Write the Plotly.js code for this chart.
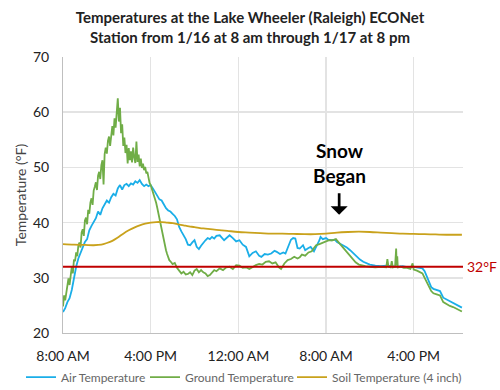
<!DOCTYPE html>
<html>
<head>
<meta charset="utf-8">
<script src="https://cdn.plot.ly/plotly-3.0.1.min.js"></script>
<style>html,body{margin:0;padding:0;background:#fff;}#chart{width:500px;height:390px;}</style>
</head>
<body>
<div id="chart"></div>
<script>
// Hours since 8:00 AM on 1/16
const tickHours = [0, 8, 16, 24, 32];
const tickLabels = ['8:00 AM', '4:00 PM', '12:00 AM', '8:00 AM', '4:00 PM'];

const airHours = [0.0,0.2,0.4,0.6,0.8,1.0,1.2,1.4,1.6,1.8,2.0,2.2,2.4,2.6,2.8,3.0,3.2,3.4,3.6,3.8,4.0,4.2,4.4,4.6,4.8,5.0,5.2,5.4,5.6,5.8,6.0,6.2,6.4,6.6,6.8,7.0,7.2,7.4,7.6,7.8,8.0,8.2,8.4,8.6,8.8,9.0,9.2,9.4,9.6,9.8,10.0,10.2,10.4,10.6,10.8,11.0,11.2,11.4,11.6,11.8,12.0,12.2,12.4,12.6,12.8,13.0,13.2,13.4,13.6,13.8,14.0,14.3,14.7,15.0,15.2,15.5,15.8,16.1,16.4,16.7,17.0,17.3,17.6,17.9,18.1,18.4,18.7,19.0,19.3,19.5,19.8,20.1,20.3,20.6,20.8,21.0,21.2,21.4,21.6,21.9,22.1,22.4,22.6,22.9,23.2,23.4,23.5,23.7,24.0,24.2,24.5,24.8,25.0,25.3,25.6,25.9,26.2,26.5,26.8,27.1,27.4,27.7,28.0,28.5,29.0,29.5,30.0,30.5,31.0,31.5,32.0,32.5,32.8,33.0,33.2,33.4,33.6,33.8,34.1,34.4,34.7,35.0,35.3,35.6,35.9,36.2,36.4];
const airTemp = [23.8,24.5,25.6,26.3,27.8,30.0,32.0,33.5,34.6,35.5,36.5,37.0,38.6,39.4,40.2,40.8,42.0,41.4,42.6,43.3,44.0,43.6,44.6,45.2,44.9,46.2,46.8,46.0,46.8,47.0,46.6,47.1,46.9,47.5,47.2,47.7,47.0,46.6,46.9,46.6,46.8,46.2,45.6,44.9,44.2,44.0,43.3,42.6,42.2,42.0,41.6,41.2,40.6,39.2,38.4,37.8,37.0,36.0,35.9,36.4,36.8,35.6,35.2,35.8,36.4,36.8,37.2,37.0,37.4,37.1,37.6,37.7,36.8,37.4,37.7,37.2,36.6,36.8,36.0,35.6,33.9,34.5,34.8,34.0,33.8,34.3,34.2,34.4,34.9,34.7,34.3,34.6,34.4,35.9,36.9,37.2,37.1,35.4,35.3,35.9,35.0,35.4,35.6,34.8,35.9,36.8,37.4,37.0,37.2,36.9,36.8,36.9,36.5,36.2,35.9,35.5,35.0,34.4,33.8,33.3,32.9,32.6,32.4,32.2,32.1,32.2,32.1,32.0,32.1,31.9,32.0,31.8,31.7,31.2,30.3,29.3,28.3,28.0,27.8,27.6,26.4,26.1,25.7,25.5,25.2,24.8,24.6];

const groundHours = [0.0,0.1,0.2,0.3,0.4,0.5,0.6,0.7,0.8,0.9,1.0,1.1,1.2,1.3,1.4,1.5,1.6,1.7,1.8,1.9,2.0,2.1,2.2,2.3,2.4,2.5,2.6,2.7,2.8,2.9,3.0,3.1,3.2,3.3,3.4,3.5,3.6,3.7,3.8,3.9,4.0,4.1,4.2,4.3,4.4,4.5,4.6,4.7,4.8,4.9,5.0,5.1,5.2,5.3,5.4,5.5,5.6,5.7,5.8,5.9,6.0,6.1,6.2,6.3,6.4,6.5,6.6,6.7,6.8,6.9,7.0,7.1,7.2,7.3,7.4,7.5,7.6,7.7,7.8,7.9,8.0,8.1,8.2,8.3,8.4,8.5,8.6,8.7,8.8,8.9,9.0,9.1,9.2,9.3,9.4,9.5,9.6,9.7,9.8,10.0,10.2,10.4,10.6,10.8,11.0,11.2,11.4,11.6,11.8,12.0,12.2,12.4,12.6,12.8,13.0,13.2,13.4,13.6,13.8,14.0,14.3,14.6,14.9,15.2,15.5,15.8,16.1,16.4,16.7,17.0,17.3,17.6,17.9,18.2,18.5,18.8,19.1,19.4,19.7,19.9,20.2,20.5,20.8,21.1,21.4,21.6,21.8,22.1,22.4,22.7,22.9,23.1,23.4,23.7,24.0,24.3,24.6,24.9,25.2,25.5,25.8,26.1,26.4,26.7,27.0,27.3,27.6,28.0,28.5,29.0,29.5,29.6,29.7,29.9,30.0,30.1,30.3,30.4,30.45,30.5,30.55,30.8,31.1,31.4,31.7,31.9,32.0,32.3,32.6,32.8,33.0,33.2,33.4,33.6,33.8,34.1,34.4,34.7,35.0,35.3,35.6,35.9,36.2,36.4];
const groundTemp = [24.8,26.8,25.9,27.6,28.3,29.9,28.7,31.2,32.0,30.8,33.3,33.0,34.6,33.9,35.8,36.4,35.5,38.2,38.8,37.6,40.4,40.9,39.7,42.3,41.6,43.6,44.4,43.2,45.8,46.5,47.3,45.9,48.5,49.2,47.9,50.4,51.3,46.9,52.4,53.6,52.5,54.8,55.6,53.9,56.6,57.5,55.8,58.9,57.2,60.6,62.5,58.3,60.8,56.2,57.8,53.9,55.4,52.6,54.1,50.7,53.5,51.3,52.9,50.9,53.6,51.8,50.8,54.7,51.0,52.3,50.2,51.6,49.9,50.7,49.5,50.1,48.9,49.2,47.8,47.2,46.8,46.2,45.4,45.0,44.3,43.6,42.7,41.7,40.6,39.7,38.6,37.8,36.9,35.6,35.0,34.3,33.6,33.2,33.0,32.5,32.7,31.8,31.3,30.8,31.1,30.6,30.7,31.0,30.5,31.3,31.6,31.0,31.4,31.0,30.8,30.3,30.5,31.0,31.4,31.2,31.7,31.4,31.9,32.0,31.6,32.3,32.2,31.8,31.9,31.6,32.0,32.3,32.5,32.4,32.9,33.0,32.6,32.8,31.9,31.6,32.6,33.2,33.4,33.8,33.5,33.7,34.2,34.0,34.6,34.8,35.4,35.9,36.1,36.4,36.6,36.8,36.8,37.0,36.3,35.7,35.0,34.2,33.5,32.8,32.4,32.2,32.1,32.0,31.9,32.0,31.9,33.4,32.0,31.9,33.0,31.9,32.0,35.3,32.2,33.9,31.9,32.0,31.8,31.8,31.6,32.6,31.5,31.3,31.0,30.8,30.0,29.3,28.4,27.6,27.2,27.0,26.8,25.6,25.2,24.9,24.7,24.4,24.1,23.9];

const soilHours = [0,1,2,2.8,3.5,4.0,4.5,5.0,5.5,6.0,6.5,7.0,7.5,8.0,8.5,9.0,9.5,10.0,10.5,11,11.5,12,12.5,13,14,15,16,17,18,19,20,21,22,23,24,25,26,27,28,29,30,31,32,33,34,35,36.4];
const soilTemp = [36.1,36.0,35.95,35.9,36.0,36.3,36.7,37.3,38.0,38.6,39.1,39.5,39.8,40.0,40.1,40.1,40.0,39.9,39.7,39.5,39.3,39.2,39.0,38.9,38.7,38.5,38.3,38.2,38.1,38.0,38.0,37.95,37.9,37.9,38.0,38.2,38.3,38.35,38.3,38.2,38.1,38.0,37.95,37.9,37.85,37.8,37.8];

const freezing = 32;
const snowHour = 25.2;
const snowArrowTemp = 41.4;

const data = [
  {x: airHours, y: airTemp, type: 'scatter', mode: 'lines', name: 'Air Temperature',
   line: {color: '#1aaee8', width: 1.8}, legend: 'legend', showlegend: true},
  {x: groundHours, y: groundTemp, type: 'scatter', mode: 'lines', name: 'Ground Temperature',
   line: {color: '#70ad47', width: 1.8}, legend: 'legend2', showlegend: true},
  {x: soilHours, y: soilTemp, type: 'scatter', mode: 'lines', name: 'Soil Temperature (4 inch)',
   line: {color: '#c9a21c', width: 1.8, shape: 'spline'}, legend: 'legend3', showlegend: true}
];

function legendAt(xc) {
  return {
    orientation: 'h', xref: 'container', x: xc, xanchor: 'left',
    yref: 'container', y: 0.033, yanchor: 'middle',
    font: {family: 'Lato', size: 12, color: '#666'}, itemwidth: 30,
    bgcolor: 'rgba(0,0,0,0)', visible: true
  };
}

const layout = {
  width: 500, height: 390,
  showlegend: true,
  margin: {l: 63, r: 37, t: 57, b: 57},
  paper_bgcolor: '#fff', plot_bgcolor: '#fff',
  font: {family: 'Lato, sans-serif', color: '#333'},
  title: {
    text: 'Temperatures at the Lake Wheeler (Raleigh) ECONet<br>Station from 1/16 at 8 am through 1/17 at 8 pm',
    font: {family: 'Lato', size: 15, color: '#222', weight: 700},
    x: 0.5, xref: 'container', xanchor: 'center',
    y: 0.94, yref: 'container', yanchor: 'middle',
    automargin: false
  },
  xaxis: {
    range: [0, 36.5], tickvals: tickHours, ticktext: tickLabels,
    showgrid: true, gridcolor: '#e3e3e3', gridwidth: 1.5, zeroline: false,
    showline: true, linecolor: '#bfbfbf', linewidth: 1,
    ticks: 'outside', ticklen: 10, tickcolor: 'rgba(0,0,0,0)',
    tickfont: {family: 'Lato', size: 14, color: '#222'},
    automargin: false
  },
  yaxis: {
    range: [20, 70], dtick: 10,
    showgrid: true, gridcolor: '#e3e3e3', gridwidth: 1.5, zeroline: false,
    showline: true, linecolor: '#bfbfbf', linewidth: 1,
    ticks: 'outside', ticklen: 10, tickcolor: 'rgba(0,0,0,0)',
    tickfont: {family: 'Lato', size: 14, color: '#222'},
    title: {text: 'Temperature (°F)', font: {family: 'Lato', size: 14, color: '#444'}, standoff: 3},
    automargin: false
  },
  legend: legendAt(0.042),
  legend2: legendAt(0.29),
  legend3: legendAt(0.584),
  shapes: [
    {type: 'line', xref: 'paper', x0: 0, x1: 1, yref: 'y', y0: freezing, y1: freezing,
     line: {color: '#c00000', width: 1.8}}
  ],
  annotations: [
    {xref: 'paper', x: 1, xanchor: 'left', xshift: 2, yref: 'y', y: freezing, yanchor: 'middle',
     text: freezing + '°F', showarrow: false, font: {family: 'Lato', size: 14, color: '#c00000'}},
    {xref: 'x', x: snowHour, yref: 'y', y: snowArrowTemp, text: '', showarrow: true,
     arrowhead: 1, arrowsize: 1.05, arrowwidth: 2.7, arrowcolor: '#000', ax: 0, ay: -23},
    {xref: 'x', x: snowHour, yref: 'y', y: snowArrowTemp, yshift: 26, yanchor: 'bottom',
     text: '<b>Snow<br>Began</b>', showarrow: false,
     font: {family: 'Lato', size: 19, color: '#000'}}
  ]
};

Plotly.newPlot('chart', data, layout, {displayModeBar: false, staticPlot: true});
</script>
</body>
</html>
